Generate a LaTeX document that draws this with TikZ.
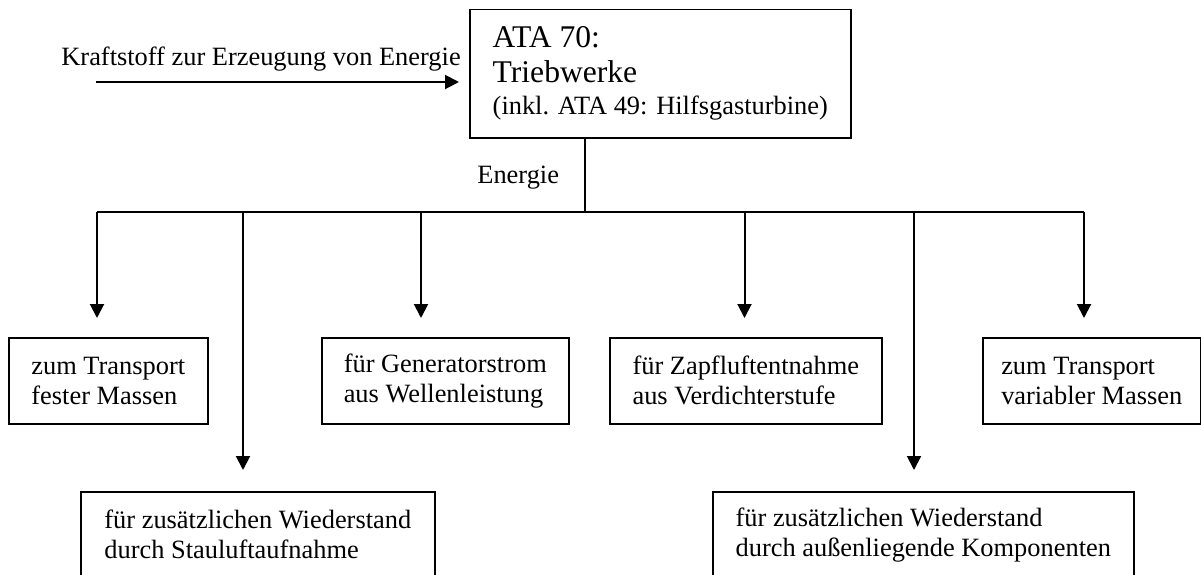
\documentclass[tikz,border=0pt]{standalone}
\usepackage{fontspec}
\setmainfont{Liberation Serif}
\usetikzlibrary{arrows.meta}
\tikzstyle{box} = [rectangle, draw=black, line width=0.8pt, anchor=north west, align=left, inner sep=0pt, minimum height=43pt, font=\fontsize{13.2}{15}\selectfont]
\tikzstyle{arrow} = [line width=1pt, -{Triangle[length=7pt,width=7pt]}]
\tikzstyle{bus} = [line width=1pt]
\tikzstyle{flowtext} = [anchor=base west, inner sep=0pt, font=\fontsize{13.2}{15}\selectfont]

\begin{document}
\begin{tikzpicture}[x=0.5pt, y=-0.5pt]
        \useasboundingbox (0,0) rectangle (1201,574);
        \clip (0,0) rectangle (1201,574);

        \node (motor) [box, minimum width=190.5pt, minimum height=64.25pt, font=\fontsize{13.2}{16}\selectfont] at (469,8.7) {{\fontsize{15.8}{17.5}\selectfont ATA 70:}\\[1.5pt]{\fontsize{15.8}{17.5}\selectfont Triebwerke}\\(inkl. ATA 49: Hilfsgasturbine)};
        \node (fest) [box, minimum width=99.5pt] at (8,337) {zum Transport\\fester Massen};
        \node (gen) [box, minimum width=123.5pt] at (321,337) {für Generatorstrom\\aus Wellenleistung};
        \node (zapf) [box, minimum width=136pt] at (609,337) {für Zapfluftentnahme\\aus Verdichterstufe};
        \node (var) [box, minimum width=109pt] at (982,337) {zum Transport\\variabler Massen};
        \node (stau) [box, minimum width=177pt] at (80,491) {für zusätzlichen Wiederstand\\durch Stauluftaufnahme};
        \node (komp) [box, minimum width=210.5pt] at (712,491) {für zusätzlichen Wiederstand\\durch außenliegende Komponenten};

        \node (fuellabel) [flowtext] at (61,65) {Kraftstoff zur Erzeugung von Energie};
        \node (energy) [flowtext] at (477,183) {Energie};

        \coordinate (fuel) at (96,82);
        \coordinate (split) at (585,212);
        \coordinate (b1) at (97,212);
        \coordinate (b2) at (243,212);
        \coordinate (b3) at (421,212);
        \coordinate (b4) at (744.5,212);
        \coordinate (b5) at (914,212);
        \coordinate (b6) at (1084,212);

        \draw [arrow, shorten >=5pt] (fuel) -- (fuel -| motor.west);
        \draw [bus] (motor.south -| split) -- (split);
        \draw [bus] (b1) -- (b6);
        \draw [arrow, shorten >=9.5pt] (b1) -- (b1 |- fest.north);
        \draw [arrow, shorten >=10.5pt] (b2) -- (b2 |- stau.north);
        \draw [arrow, shorten >=9.5pt] (b3) -- (b3 |- gen.north);
        \draw [arrow, shorten >=9.5pt] (b4) -- (b4 |- zapf.north);
        \draw [arrow, shorten >=10.5pt] (b5) -- (b5 |- komp.north);
        \draw [arrow, shorten >=9.5pt] (b6) -- (b6 |- var.north);
    \end{tikzpicture}
\end{document}
